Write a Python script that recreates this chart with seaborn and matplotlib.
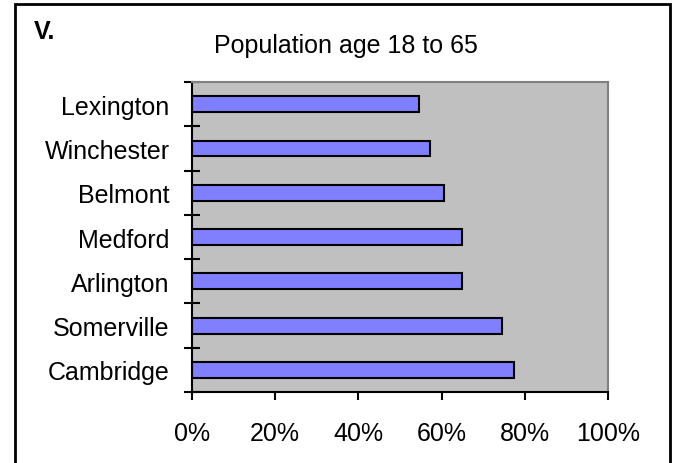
import numpy as np
import pandas as pd
import matplotlib
matplotlib.use("Agg")
import matplotlib.pyplot as plt
import seaborn as sns
from matplotlib.patches import Rectangle

# data (top to bottom as shown)
towns = ["Lexington", "Winchester", "Belmont", "Medford", "Arlington", "Somerville", "Cambridge"]
share_18_65 = [0.546, 0.572, 0.606, 0.650, 0.650, 0.745, 0.774]
x_ticks = [0, 0.2, 0.4, 0.6, 0.8, 1.0]
x_tick_labels = ["0%", "20%", "40%", "60%", "80%", "100%"]

df = pd.DataFrame({"town": towns, "share": share_18_65})

sns.set_theme(style="white")
plt.rcParams["font.family"] = ["Liberation Sans", "DejaVu Sans"]
plt.rcParams.update({"text.color": "black", "xtick.color": "black",
                     "ytick.color": "black", "xtick.labelcolor": "black",
                     "ytick.labelcolor": "black"})

fig = plt.figure(figsize=(6.75, 4.64), dpi=100)
ax = fig.add_axes([0.2844, 0.153, 0.6163, 0.668])
ax.set_facecolor("#C0C0C0")

sns.barplot(data=df, x="share", y="town", order=towns, orient="h",
            color="#8080FF", saturation=1, width=0.36,
            edgecolor="black", linewidth=1.5, ax=ax)

ax.set_xlim(0, 1)
ax.set_ylim(len(towns) - 0.5, -0.5)
ax.set_xlabel("")
ax.set_ylabel("")

# x axis
ax.set_xticks(x_ticks)
ax.set_xticklabels(x_tick_labels, fontsize=18)
ax.tick_params(axis="x", direction="out", length=6, width=1.5, color="black",
               pad=15, bottom=True)

# y axis: ticks at category boundaries, labels in the middle
ax.set_yticks(np.arange(-0.5, len(towns), 1))
ax.set_yticklabels([])
ax.tick_params(axis="y", which="major", direction="inout", length=12, width=1.5,
               color="black", left=True)
ax.set_yticks(np.arange(len(towns)), minor=True)
ax.set_yticklabels(towns, minor=True, fontsize=18)
ax.tick_params(axis="y", which="minor", length=0, pad=16, left=True)

for side in ["left", "bottom"]:
    ax.spines[side].set_color("black")
    ax.spines[side].set_linewidth(1.5)
for side in ["top", "right"]:
    ax.spines[side].set_color("#808080")
    ax.spines[side].set_linewidth(1.5)

# chart title and label
fig.text(0.512, 0.900, "Population age 18 to 65", ha="center", va="center", fontsize=18)
fig.text(0.050, 0.932, "V.", ha="left", va="center", fontsize=18, fontweight="bold")

# frame around the chart
fig.patches.append(Rectangle((15 / 675, -0.05), 655 / 675, 1.04, transform=fig.transFigure,
                             fill=False, edgecolor="black", linewidth=2))

fig.savefig("out.png", dpi=100)
